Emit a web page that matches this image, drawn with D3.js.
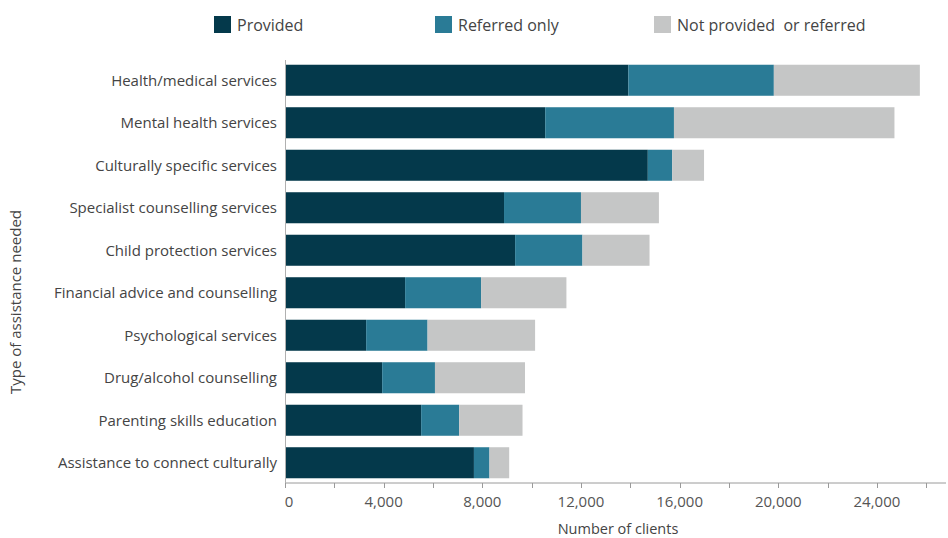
<!DOCTYPE html>
<html>
<head>
<meta charset="utf-8">
<script src="https://cdn.jsdelivr.net/npm/d3@7"></script>
<style>
  html, body { margin: 0; padding: 0; background: #fff; }
  svg { display: block; }
  text { font-family: "Open Sans", Lato, sans-serif; }
</style>
</head>
<body>
<svg id="chart" width="948" height="538"></svg>
<script>
// Type of assistance needed, top to bottom
const categories = [
  "Health/medical services",
  "Mental health services",
  "Culturally specific services",
  "Specialist counselling services",
  "Child protection services",
  "Financial advice and counselling",
  "Psychological services",
  "Drug/alcohol counselling",
  "Parenting skills education",
  "Assistance to connect culturally"
];

// Number of clients by outcome
const provided     = [13920, 10550, 14710, 8880, 9330, 4870, 3290, 3940, 5520, 7660];
const referredOnly = [5900, 5220, 990, 3120, 2730, 3080, 2490, 2140, 1540, 630];
const notProvided  = [5920, 8940, 1290, 3160, 2720, 3460, 4360, 3650, 2570, 800];

const seriesNames  = ["Provided", "Referred only", "Not provided  or referred"];
const seriesColors = ["#04394b", "#2a7b96", "#c5c6c6"];

const xTicks = [0, 4000, 8000, 12000, 16000, 20000, 24000];
const xMinorTicks = [2000, 6000, 10000, 14000, 18000, 22000, 26000];

const svg = d3.select("#chart");

const rows = categories.map((c, i) => ({
  category: c,
  p: provided[i],
  r: referredOnly[i],
  n: notProvided[i]
}));
const stack = d3.stack().keys(["p", "r", "n"])(rows);

const x = d3.scaleLinear().domain([0, 26800]).range([285, 946]);
const y = d3.scaleBand().domain(categories).range([59, 484])
  .paddingInner(0.27).paddingOuter(0.135);
const axisY = 483;

// bars
svg.append("g").selectAll("g")
  .data(stack)
  .join("g")
  .attr("fill", (d, i) => seriesColors[i])
  .selectAll("rect")
  .data(d => d)
  .join("rect")
  .attr("x", d => x(d[0]))
  .attr("y", d => y(d.data.category))
  .attr("width", d => x(d[1]) - x(d[0]))
  .attr("height", y.bandwidth());

// x axis
const xAxis = svg.append("g").attr("transform", `translate(0,${axisY})`);
xAxis.append("line")
  .attr("x1", x(0)).attr("x2", 946)
  .attr("stroke", "#9a9a9a").attr("stroke-width", 1);
xAxis.selectAll("line.tick")
  .data(xTicks.concat(xMinorTicks))
  .join("line")
  .attr("class", "tick")
  .attr("x1", d => Math.round(x(d)) + 0.5).attr("x2", d => Math.round(x(d)) + 0.5)
  .attr("y1", 0).attr("y2", 5)
  .attr("stroke", "#9a9a9a");
xAxis.selectAll("text")
  .data(xTicks)
  .join("text")
  .attr("x", d => x(d) + (d === 0 ? 4 : 0))
  .attr("y", 24)
  .attr("text-anchor", "middle")
  .attr("font-size", 15)
  .attr("fill", "#555")
  .text(d => d3.format(",")(d));

svg.append("text")
  .attr("x", 618).attr("y", 534)
  .attr("text-anchor", "middle")
  .attr("font-size", 14.5)
  .attr("fill", "#444")
  .text("Number of clients");

// y axis
svg.append("line")
  .attr("x1", 285.5).attr("x2", 285.5)
  .attr("y1", 60).attr("y2", axisY)
  .attr("stroke", "#b0b0b0");
svg.append("g").selectAll("text")
  .data(categories)
  .join("text")
  .attr("x", 277)
  .attr("y", d => y(d) + y.bandwidth() / 2)
  .attr("dy", "0.35em")
  .attr("text-anchor", "end")
  .attr("font-size", 15)
  .attr("fill", "#444")
  .text(d => d);

svg.append("text")
  .attr("transform", "translate(21,302) rotate(-90)")
  .attr("text-anchor", "middle")
  .attr("font-size", 15)
  .attr("fill", "#444")
  .text("Type of assistance needed");

// legend
const legendX = [214, 435, 654];
const legend = svg.append("g").selectAll("g")
  .data(seriesNames)
  .join("g")
  .attr("transform", (d, i) => `translate(${legendX[i]},16)`);
legend.append("rect")
  .attr("width", 17).attr("height", 17)
  .attr("fill", (d, i) => seriesColors[i]);
legend.append("text")
  .attr("x", 23).attr("y", 9).attr("dy", "0.35em")
  .attr("font-size", 16)
  .attr("fill", "#444")
  .attr("xml:space", "preserve")
  .style("white-space", "pre")
  .text(d => d);
</script>
</body>
</html>
